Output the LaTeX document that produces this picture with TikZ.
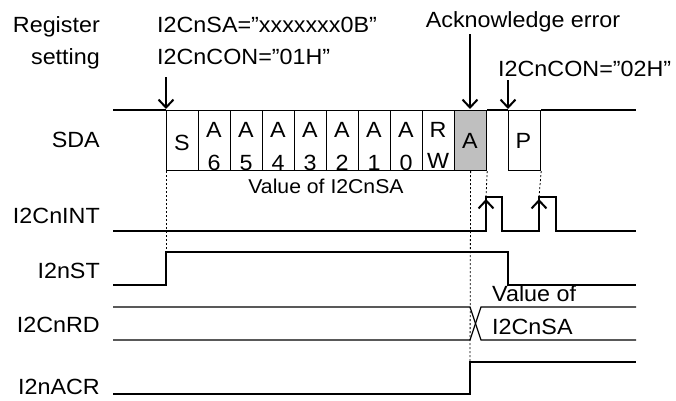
\documentclass[tikz,border=0pt]{standalone}
\usepackage{fontspec}
\setmainfont[FakeStretch=1.06]{Liberation Sans}
\usetikzlibrary{arrows.meta}
\begin{document}
\begin{tikzpicture}[x=1pt,y=-1pt,
  lbl/.style={font=\fontsize{22}{26}\selectfont, inner sep=0pt},
  sm/.style={font=\fontsize{20}{24}\selectfont, inner sep=0pt},
  sig/.style={line width=1.2pt, line join=miter},
  arr/.style={line width=2pt,-{Straight Barb[length=8pt,width=15pt]}},
  dotl/.style={line width=0.8pt,dash pattern=on 2pt off 2pt},
  cell/.style={draw,line width=1.2pt,minimum width=32pt,minimum height=60pt,inner sep=0pt,anchor=north west},
]
\useasboundingbox (0,0) rectangle (676,400);

% left labels
\node[lbl,anchor=base east] (lreg) at (100,32) {Register};
\node[lbl,anchor=base east] (lset) at (100,64) {setting};
\node[lbl,anchor=base east] (lsda) at (100,147) {SDA};
\node[lbl,anchor=base east] (lint) at (100,223) {I2CnINT};
\node[lbl,anchor=base east] (lst) at (100,278) {I2nST};
\node[lbl,anchor=base east] (lrd) at (100,332) {I2CnRD};
\node[lbl,anchor=base east] (lacr) at (100,394) {I2nACR};

% top annotations
\node[lbl,anchor=base west] (tsa) at (157,32) {I2CnSA=”xxxxxxx0B”};
\node[lbl,anchor=base west] (tcon1) at (157,64) {I2CnCON=”01H”};
\node[lbl,anchor=base] (tack) at (523,27) {Acknowledge error};
\node[lbl,anchor=base west] (tcon2) at (498,76) {I2CnCON=”02H”};

% arrow anchors
\coordinate (a1s) at (166,77);  \coordinate (a1e) at (166,109);
\coordinate (a2s) at (470,34);  \coordinate (a2e) at (470,109);
\coordinate (a3s) at (508,80);  \coordinate (a3e) at (508,109);

% SDA cell texts
\node[lbl] (tS) at (182,143) {S};
\foreach \cx/\d [count=\i] in {214/6,246/5,278/4,310/3,342/2,374/1,406/0}{
  \node[lbl,anchor=base] (tA\i) at (\cx,137) {A};
  \node[lbl,anchor=base] (tD\i) at (\cx,170.5) {\d};
}
\node[lbl,anchor=base] (tR) at (438,137) {R};
\node[lbl,anchor=base] (tW) at (438,168) {W};

% SDA cells
\node[cell] (cS) at (166,110) {};
\foreach \cx [count=\i] in {198,230,262,294,326,358,390}{
  \node[cell] (cA\i) at (\cx,110) {};
}
\node[cell] (cRW) at (422,110) {};
\node[cell,fill=gray!50] (cACK) at (454,110) {};
\node[lbl] (tACK) at (470,141) {A};
\node[cell] (cP) at (508,110) {};
\node[lbl] (tP) at (523.5,141) {P};

\node[sm,anchor=base] (tval) at (326,193) {Value of I2CnSA};

% SDA line segments
\coordinate (sda0) at (113,110);
\coordinate (sda1) at (636,110);
\draw[sig] (sda0) -- (cS.north west);
\draw[sig] (cACK.north east) -- (cP.north west);
\draw[sig] (cP.north east) -- (sda1);

% I2CnINT
\draw[sig] (113,231) -- (486,231) -- (486,197) -- (502,197) -- (502,231)
  -- (539,231) -- (539,197) -- (556,197) -- (556,231) -- (636,231);

% I2nST
\draw[sig] (113,285) -- (166,285) -- (166,252) -- (508,252) -- (508,285) -- (636,285);

% I2CnRD
\draw[sig] (113,307) -- (470,307) -- (481,340) -- (636,340);
\draw[sig] (113,340) -- (470,340) -- (481,307) -- (636,307);
\node[lbl,anchor=base west] (tv1) at (492,301) {Value of};
\node[lbl,anchor=base west] (tv2) at (492,334) {I2CnSA};

% I2nACR
\draw[sig] (113,394) -- (470,394) -- (470,362) -- (636,362);

% dotted guides
\draw[dotl] (cS.south west) -- (166,252);
\draw[dotl] (cACK.south) -- (470,362);
\draw[dotl] (cACK.south east) -- (486,197);
\draw[dotl] (cP.south east) -- (539,197);

% arrows
\draw[arr] (a1s) -- (a1e);
\draw[arr] (a2s) -- (a2e);
\draw[arr] (a3s) -- (a3e);
\coordinate (u1s) at (486,231); \coordinate (u1e) at (486,199);
\coordinate (u2s) at (539,231); \coordinate (u2e) at (539,199);
\draw[arr] (u1s) -- (u1e);
\draw[arr] (u2s) -- (u2e);
\end{tikzpicture}
\end{document}
